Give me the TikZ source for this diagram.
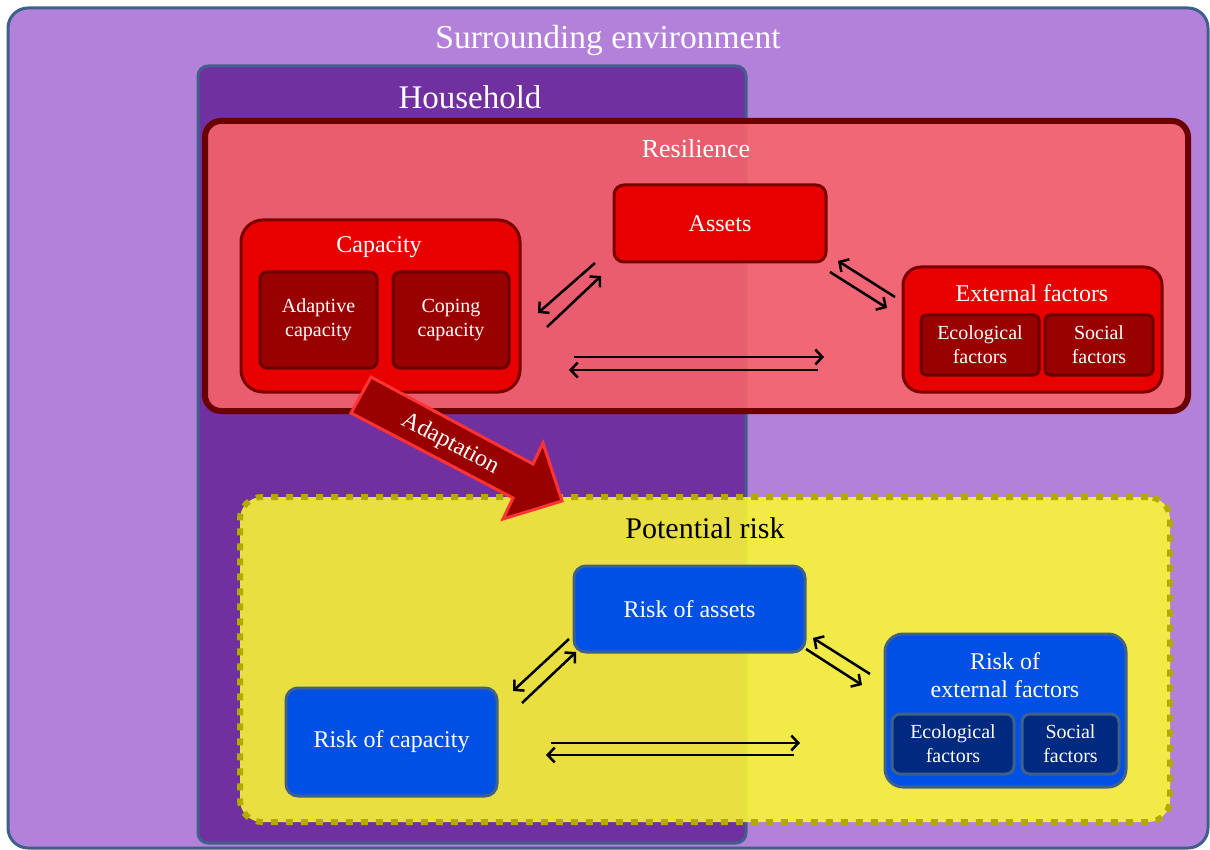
\documentclass[tikz,border=0pt]{standalone}
\usepackage{fontspec}
\setmainfont{Liberation Serif}
\usetikzlibrary{arrows.meta}
\definecolor{envfill}{HTML}{B380DA}
\definecolor{edgeblue}{HTML}{3F6089}
\definecolor{hhfill}{HTML}{7030A0}
\definecolor{resfill}{RGB}{251,100,104}
\definecolor{resedge}{HTML}{6B0000}
\definecolor{redfill}{HTML}{E80000}
\definecolor{rededge}{HTML}{7A0000}
\definecolor{darkred}{HTML}{990000}
\definecolor{yelfill}{RGB}{251,250,50}
\definecolor{yeledge}{HTML}{B3AA00}
\definecolor{bluefill}{HTML}{0050E6}
\definecolor{darkblue}{HTML}{002A80}
\definecolor{adapedge}{HTML}{FF3333}
\tikzset{
  envbox/.style={draw=edgeblue, line width=3pt, fill=envfill, rounded corners=20pt},
  hhbox/.style={draw=edgeblue, line width=3pt, fill=hhfill, rounded corners=10pt},
  resbox/.style={draw=resedge, line width=6pt, fill=resfill, fill opacity=0.87, draw opacity=1, rounded corners=16pt},
  redbox/.style={draw=rededge, line width=3pt, fill=redfill, rounded corners=14pt},
  darkbox/.style={draw=resedge, line width=3pt, fill=darkred, rounded corners=7pt, text=white, align=center, font=\fontsize{20}{24}\selectfont},
  yelbox/.style={draw=yeledge, line width=6pt, dash pattern=on 7pt off 8pt, fill=yelfill, fill opacity=0.87, draw opacity=1, rounded corners=22pt},
  bluebox/.style={draw=edgeblue, line width=3pt, fill=bluefill, rounded corners=12pt},
  dbluebox/.style={draw=edgeblue, line width=3pt, fill=darkblue, rounded corners=8pt, text=white, align=center, font=\fontsize{20}{24}\selectfont},
  wtitle/.style={text=white, align=center},
  link/.style={line width=2.5pt, -{Straight Barb[length=7pt,width=15pt]}},
}
\begin{document}
\begin{tikzpicture}[x=1pt,y=-1pt, every node/.style={inner sep=0pt, outer sep=0pt}]
\useasboundingbox (0,0) rectangle (1210,850);
% containers
\node[envbox, minimum width=1200pt, minimum height=840pt] (env) at (608,428) {};
\node[wtitle, font=\fontsize{33.5}{36}\selectfont] (envt) at (608,40) {Surrounding environment};
\node[hhbox, minimum width=548pt, minimum height=777pt] (hh) at (472,454.5) {};
\node[wtitle, font=\fontsize{33}{36}\selectfont] (hht) at (470,97) {Household};
\node[resbox, minimum width=983pt, minimum height=290pt] (res) at (696.5,266) {};
\node[wtitle, font=\fontsize{26}{30}\selectfont] (rest) at (696,149) {Resilience};
% resilience content
\node[redbox, rounded corners=10pt, minimum width=212pt, minimum height=77pt, wtitle, font=\fontsize{24}{28}\selectfont] (assets) at (720,223.5) {Assets};
\node[redbox, rounded corners=22pt, minimum width=279pt, minimum height=172pt] (cap) at (380.5,306) {};
\node[wtitle, font=\fontsize{24}{28}\selectfont] (capt) at (379,247) {Capacity};
\node[darkbox, minimum width=117pt, minimum height=96pt] (adapt) at (318.5,320) {Adaptive\\capacity};
\node[darkbox, minimum width=116pt, minimum height=96pt] (coping) at (451,320) {Coping\\capacity};
\node[redbox, rounded corners=18pt, minimum width=259pt, minimum height=125pt] (ext) at (1032.5,329.5) {};
\node[wtitle, font=\fontsize{24}{28}\selectfont] (extt) at (1032,293) {External factors};
\node[darkbox, rounded corners=5pt, minimum width=118pt, minimum height=60pt] (eco) at (980,345) {Ecological\\factors};
\node[darkbox, rounded corners=5pt, minimum width=108pt, minimum height=60pt] (soc) at (1099,345) {Social\\factors};
% resilience arrows
\coordinate (a1s) at (595,263); \coordinate (a1e) at (538,313);
\coordinate (a2s) at (547,327); \coordinate (a2e) at (601,276);
\coordinate (a3s) at (895,297); \coordinate (a3e) at (838,261);
\coordinate (a4s) at (830,272); \coordinate (a4e) at (887,308);
\coordinate (a5s) at (574,357); \coordinate (a5e) at (824,357);
\coordinate (a6s) at (818,370); \coordinate (a6e) at (569,370);
\draw[link] (a1s) -- (a1e);
\draw[link] (a2s) -- (a2e);
\draw[link] (a3s) -- (a3e);
\draw[link] (a4s) -- (a4e);
\draw[link] (a5s) -- (a5e);
\draw[link] (a6s) -- (a6e);
% potential risk
\node[yelbox, minimum width=930pt, minimum height=325pt] (risk) at (705,659.5) {};
\node[font=\fontsize{30}{34}\selectfont, text=black] (riskt) at (705,528) {Potential risk};
\node[bluebox, minimum width=231pt, minimum height=86pt, wtitle, font=\fontsize{24}{28}\selectfont] (rassets) at (689.5,609) {Risk of assets};
\node[bluebox, minimum width=211pt, minimum height=108pt, wtitle, font=\fontsize{24}{28}\selectfont] (rcap) at (391.5,742) {Risk of capacity};
\node[bluebox, rounded corners=18pt, minimum width=241pt, minimum height=153pt] (rext) at (1005.5,710.5) {};
\node[wtitle, font=\fontsize{24}{28}\selectfont] (rextt) at (1005,675) {Risk of\\external factors};
\node[dbluebox, minimum width=122pt, minimum height=60pt] (reco) at (953,744) {Ecological\\factors};
\node[dbluebox, minimum width=97pt, minimum height=60pt] (rsoc) at (1070.5,744) {Social\\factors};
% risk arrows
\coordinate (b1s) at (569,639); \coordinate (b1e) at (513,691);
\coordinate (b2s) at (522,703); \coordinate (b2e) at (576,652);
\coordinate (b3s) at (870,674); \coordinate (b3e) at (813,638);
\coordinate (b4s) at (806,649); \coordinate (b4e) at (862,685);
\coordinate (b5s) at (551,743); \coordinate (b5e) at (800,743);
\coordinate (b6s) at (794,755); \coordinate (b6e) at (546,755);
\draw[link] (b1s) -- (b1e);
\draw[link] (b2s) -- (b2e);
\draw[link] (b3s) -- (b3e);
\draw[link] (b4s) -- (b4e);
\draw[link] (b5s) -- (b5e);
\draw[link] (b6s) -- (b6e);
% adaptation block arrow
\draw[draw=adapedge, line width=3pt, fill=darkred, line join=miter]
  (371,377) -- (533,464) -- (543,443) -- (562,501) -- (503,519) -- (513,498) -- (351,413) -- cycle;
\node[text=white, rotate=-28, font=\fontsize{24}{28}\selectfont] (adaptt) at (450,444) {Adaptation};
\end{tikzpicture}
\end{document}
